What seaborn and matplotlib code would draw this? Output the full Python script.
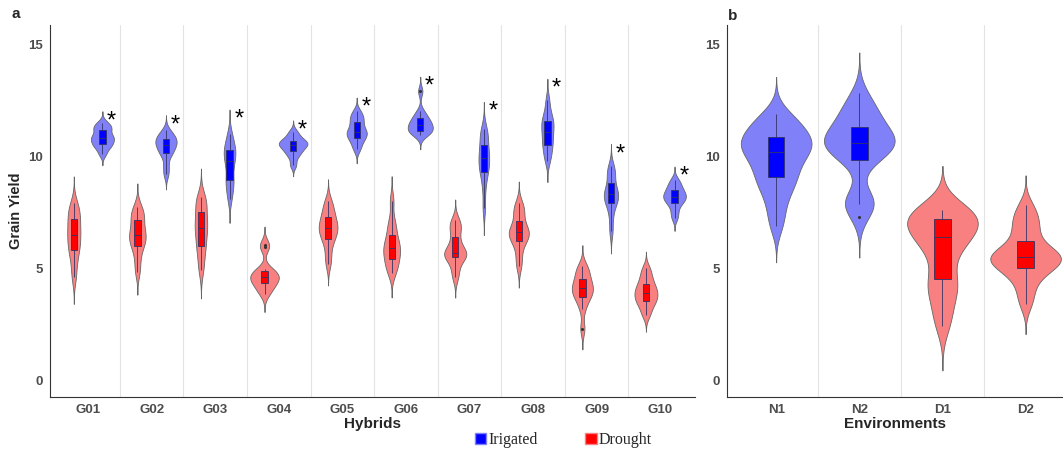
# Grain yield of maize hybrids under irrigated and drought conditions
# (a) per hybrid, (b) per environment - violins with narrow boxplots inside

import pandas as pd
import numpy as np
import seaborn as sns
import matplotlib.pyplot as plt
from matplotlib.patches import Patch

''' ------------------- DATA ----------------------------'''
hybrids = ["G01", "G02", "G03", "G04", "G05", "G06", "G07", "G08", "G09", "G10"]
environments = ["N1", "N2", "D1", "D2"]

# yields per hybrid, irrigated
G01_irr = [10.1, 10.35, 10.5, 10.55, 10.7, 10.8, 10.85, 10.95, 11.15, 11.25, 11.35, 11.5]
G02_irr = [9.2, 9.6, 10.05, 10.15, 10.35, 10.45, 10.55, 10.65, 10.75, 10.85, 10.95, 11.15]
G03_irr = [8.1, 8.5, 8.85, 8.95, 9.4, 9.7, 9.9, 10.1, 10.25, 10.4, 10.65, 11.0]
G04_irr = [9.6, 9.95, 10.15, 10.25, 10.4, 10.45, 10.55, 10.6, 10.65, 10.75, 10.9, 11.1]
G05_irr = [10.3, 10.55, 10.75, 10.85, 11.0, 11.05, 11.15, 11.3, 11.5, 11.65, 11.8, 12.0]
G06_irr = [10.95, 11.05, 11.1, 11.15, 11.3, 11.35, 11.45, 11.55, 11.65, 11.8, 12.0, 12.9]
G07_irr = [7.7, 8.6, 9.2, 9.35, 9.6, 9.8, 10.0, 10.2, 10.4, 10.8, 11.0, 11.2]
G08_irr = [9.8, 10.1, 10.4, 10.55, 10.8, 11.0, 11.2, 11.4, 11.55, 11.7, 12.0, 12.5]
G09_irr = [6.65, 7.3, 7.8, 7.95, 8.1, 8.25, 8.35, 8.5, 8.7, 9.1, 9.3, 9.55]
G10_irr = [7.25, 7.55, 7.85, 7.95, 8.1, 8.15, 8.25, 8.35, 8.45, 8.6, 8.75, 8.95]

# yields per hybrid, drought
G01_dro = [4.6, 5.2, 5.7, 5.85, 6.2, 6.4, 6.6, 6.9, 7.1, 7.4, 7.6, 7.9]
G02_dro = [4.85, 5.4, 5.9, 6.05, 6.3, 6.45, 6.55, 6.8, 7.1, 7.3, 7.5, 7.75]
G03_dro = [4.9, 5.4, 5.9, 6.05, 6.5, 6.7, 6.9, 7.2, 7.4, 7.8, 8.0, 8.2]
G04_dro = [3.85, 4.05, 4.25, 4.35, 4.5, 4.55, 4.65, 4.75, 4.85, 4.95, 5.95, 6.05]
G05_dro = [5.2, 5.7, 6.2, 6.35, 6.6, 6.75, 6.85, 7.0, 7.25, 7.4, 7.7, 8.0]
G06_dro = [4.8, 5.0, 5.3, 5.45, 5.7, 5.85, 5.95, 6.2, 6.4, 6.8, 7.1, 8.0]
G07_dro = [4.6, 5.0, 5.4, 5.55, 5.6, 5.65, 5.75, 6.0, 6.3, 6.7, 6.9, 7.15]
G08_dro = [5.1, 5.6, 6.1, 6.25, 6.45, 6.55, 6.65, 6.8, 7.0, 7.4, 7.6, 7.9]
G09_dro = [2.3, 3.2, 3.6, 3.75, 3.9, 4.05, 4.15, 4.3, 4.45, 4.7, 4.9, 5.1]
G10_dro = [2.9, 3.2, 3.45, 3.55, 3.7, 3.85, 3.95, 4.1, 4.25, 4.45, 4.7, 5.0]

# yields per environment (panel b)
N1_vals = [6.9, 7.6, 8.2, 8.6, 8.9, 9.1, 9.4, 9.7, 9.9, 10.1,
           10.3, 10.45, 10.55, 10.65, 10.8, 11.0, 11.2, 11.4, 11.65, 11.9]
N2_vals = [7.3, 7.85, 7.95, 8.0, 8.1, 9.75, 9.85, 10.1, 10.3, 10.4, 10.5, 10.55,
           10.65, 10.7, 10.8, 10.9, 11.1, 11.25, 11.5, 11.7, 11.9, 12.1, 12.4, 12.8]
D1_vals = [2.4, 3.0, 3.6, 4.1, 4.3, 4.6, 5.3, 5.8, 6.1, 6.3,
           6.5, 6.7, 6.8, 6.9, 7.1, 7.4, 7.45, 7.5, 7.55, 7.6]
D2_vals = [3.4, 3.9, 4.4, 4.7, 4.95, 5.05, 5.2, 5.3, 5.4, 5.45,
           5.55, 5.6, 5.7, 5.9, 6.1, 6.5, 6.8, 7.1, 7.4, 7.8]

irrigated = [G01_irr, G02_irr, G03_irr, G04_irr, G05_irr,
             G06_irr, G07_irr, G08_irr, G09_irr, G10_irr]
drought = [G01_dro, G02_dro, G03_dro, G04_dro, G05_dro,
           G06_dro, G07_dro, G08_dro, G09_dro, G10_dro]
env_vals = [N1_vals, N2_vals, D1_vals, D2_vals]

# long form tables for seaborn
rows = []
for h, irr, dro in zip(hybrids, irrigated, drought):
    rows += [(h, "Irrigated", v) for v in irr]
    rows += [(h, "Drought", v) for v in dro]
df_a = pd.DataFrame(rows, columns=["Hybrid", "Condition", "Yield"])

rows = []
for e, vals in zip(environments, env_vals):
    rows += [(e, v) for v in vals]
df_b = pd.DataFrame(rows, columns=["Environment", "Yield"])

''' ------------------- STYLE ----------------------------'''
sns.set_style("white")
plt.rcParams["font.family"] = ["Liberation Sans", "DejaVu Sans"]

BW = 0.4      # kde bandwidth factor
CUT = 3       # untrimmed violins, tails run 3 bandwidths past the data

violin_cols = {"Irrigated": "#8080F8", "Drought": "#F88080"}
box_cols = {"Irrigated": "#0000FF", "Drought": "#FF0000"}
env_violin = {"N1": "#8080F8", "N2": "#8080F8", "D1": "#F88080", "D2": "#F88080"}
env_box = {"N1": "#0000FF", "N2": "#0000FF", "D1": "#FF0000", "D2": "#FF0000"}
tick_grey = "#4D4D4D"
flier_style = {"marker": "o", "markerfacecolor": "#333333", "markeredgecolor": "#333333"}

fig = plt.figure(figsize=(10.63, 4.54), dpi=100)
ax1 = fig.add_axes([0.047, 0.1256, 0.607, 0.819])
ax2 = fig.add_axes([0.684, 0.1256, 0.316, 0.819])

''' ------------------- PANEL A ----------------------------'''
sns.violinplot(data=df_a, x="Hybrid", y="Yield", hue="Condition", order=hybrids,
               hue_order=["Drought", "Irrigated"], palette=violin_cols, saturation=1,
               inner=None, cut=CUT, bw_method=BW, density_norm="area",
               width=0.9, gap=0.0, linewidth=0.6, linecolor="#666666",
               legend=False, ax=ax1)
sns.boxplot(data=df_a, x="Hybrid", y="Yield", hue="Condition", order=hybrids,
            hue_order=["Drought", "Irrigated"], palette=box_cols, saturation=1,
            width=0.9, gap=0.78, linewidth=0.6, linecolor="#333366",
            fliersize=1.2, flierprops=flier_style,
            capprops={"linewidth": 0}, legend=False, ax=ax1)

# significance stars next to the top of the irrigated violins
for i, vals in enumerate(irrigated):
    top = max(vals) + CUT * BW * np.std(vals, ddof=1)
    ax1.text(i + 0.37, top - 0.45, "*", fontsize=17, ha="center", va="center",
             color="black")

for k in range(len(hybrids) - 1):
    ax1.axvline(k + 0.5, color="#E3E3E3", linewidth=0.8, zorder=0)

ax1.set_xlim(-0.6, 9.55)
ax1.set_xlabel("Hybrids", fontsize=11, fontweight="bold", labelpad=1)
ax1.set_ylabel("Grain Yield", fontsize=10.5, fontweight="bold", labelpad=4)

''' ------------------- PANEL B ----------------------------'''
sns.violinplot(data=df_b, x="Environment", y="Yield", hue="Environment",
               order=environments, palette=env_violin, saturation=1, inner=None,
               cut=CUT, bw_method=BW, density_norm="area", width=0.85,
               linewidth=0.6, linecolor="#666666", legend=False, ax=ax2)
sns.boxplot(data=df_b, x="Environment", y="Yield", hue="Environment",
            order=environments, palette=env_box, saturation=1, width=0.2,
            linewidth=0.6, linecolor="#333366", fliersize=1.2,
            flierprops=flier_style, capprops={"linewidth": 0}, legend=False, ax=ax2)

for k in range(len(environments) - 1):
    ax2.axvline(k + 0.5, color="#E3E3E3", linewidth=0.8, zorder=0)

ax2.set_xlim(-0.59, 3.45)
ax2.set_xlabel("Environments", fontsize=11, fontweight="bold", labelpad=1)
ax2.set_ylabel("")

''' ------------------- COMMON AXES ----------------------------'''
for ax in (ax1, ax2):
    ax.set_ylim(-0.75, 15.85)
    ax.set_yticks([0, 5, 10, 15])
    for side in ("top", "right"):
        ax.spines[side].set_visible(False)
    for side in ("left", "bottom"):
        ax.spines[side].set_color("#333333")
        ax.spines[side].set_linewidth(0.8)
    ax.tick_params(axis="both", length=3, width=0.7, color="#333333",
                   labelcolor=tick_grey, labelsize=9.5, pad=2)
    for lbl in ax.get_xticklabels() + ax.get_yticklabels():
        lbl.set_fontweight("bold")

fig.text(0.011, 0.97, "a", fontsize=11, fontweight="bold", va="center")
fig.text(0.685, 0.965, "b", fontsize=11, fontweight="bold", va="center")

handles = [Patch(facecolor="#0000FF", edgecolor="#8080F8", label="Irigated"),
           Patch(facecolor="#FF0000", edgecolor="#F88080", label="Drought")]
fig.legend(handles=handles, loc="center", bbox_to_anchor=(0.53, 0.03), ncol=2,
           frameon=False, handlelength=0.7, handleheight=0.7, handletextpad=0.15,
           columnspacing=3.0, prop={"family": "Liberation Serif", "size": 11.5})

fig.savefig("out.png", dpi=100)
